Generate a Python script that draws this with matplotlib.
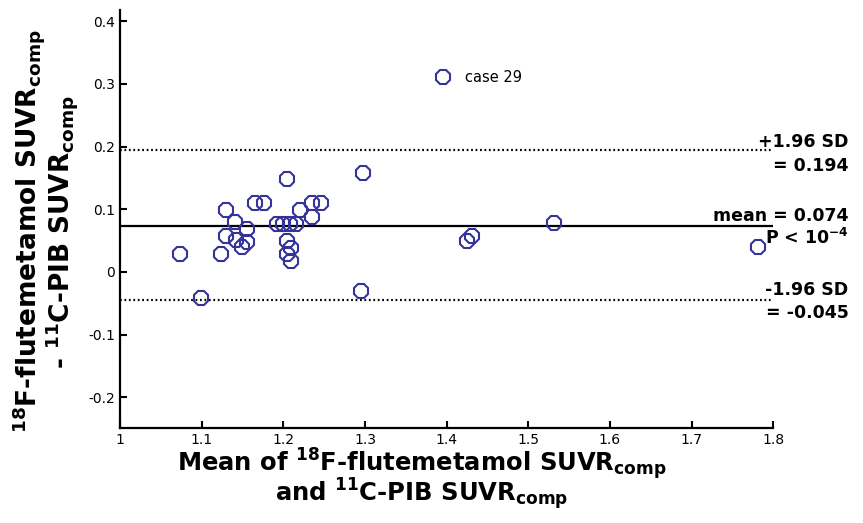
import matplotlib
matplotlib.use("Agg")
import matplotlib.pyplot as plt
import numpy as np

plt.rcParams['font.family'] = ['DejaVu Sans']
plt.rcParams['mathtext.fontset'] = 'custom'
plt.rcParams['mathtext.rm'] = 'DejaVu Sans:bold'
plt.rcParams['mathtext.bf'] = 'DejaVu Sans:bold'

# mean of the two SUVRs (x) and difference (y)
mean_suvr = [1.074, 1.099, 1.130, 1.124, 1.130, 1.141, 1.155, 1.142, 1.149, 1.155,
             1.165, 1.176, 1.204, 1.192, 1.200, 1.208, 1.216, 1.204, 1.209, 1.204,
             1.210, 1.220, 1.235, 1.235, 1.246, 1.298, 1.295, 1.396, 1.425, 1.431,
             1.532, 1.781]
diff_suvr = [0.029, -0.041, 0.099, 0.029, 0.057, 0.079, 0.069, 0.051, 0.040, 0.048,
             0.110, 0.110, 0.148, 0.077, 0.077, 0.077, 0.077, 0.050, 0.039, 0.029,
             0.018, 0.099, 0.088, 0.110, 0.110, 0.158, -0.031, 0.311, 0.049, 0.057,
             0.078, 0.040]

mean_diff = 0.074
upper_loa = 0.194
lower_loa = -0.045

x_ticks = [1, 1.1, 1.2, 1.3, 1.4, 1.5, 1.6, 1.7, 1.8]
y_ticks = [-0.2, -0.1, 0, 0.1, 0.2, 0.3, 0.4]

fig = plt.figure(figsize=(8.63, 5.23), dpi=100)
ax = fig.add_axes([0.139, 0.1816, 0.757, 0.7994])

ax.plot(mean_suvr, diff_suvr, linestyle='none', marker='8', markersize=11,
        markerfacecolor='none', markeredgecolor='#33339a', markeredgewidth=1.5,
        zorder=3)

ax.axhline(mean_diff, color='black', lw=1.6, zorder=2)
ax.axhline(upper_loa, color='black', lw=1.6, linestyle=(0, (0.8, 1.2)), zorder=2)
ax.axhline(lower_loa, color='black', lw=1.6, linestyle=(0, (0.8, 1.2)), zorder=2)

ax.set_xlim(1, 1.8)
ax.set_ylim(-0.249, 0.418)
ax.set_xticks(x_ticks)
ax.set_xticklabels(['1', '1.1', '1.2', '1.3', '1.4', '1.5', '1.6', '1.7', '1.8'])
ax.set_yticks(y_ticks)
ax.set_yticklabels(['-0.2', '-0.1', '0', '0.1', '0.2', '0.3', '0.4'])
ax.tick_params(direction='in', length=5, width=1.5, labelsize=10)

for side in ['top', 'right']:
    ax.spines[side].set_visible(False)
for side in ['left', 'bottom']:
    ax.spines[side].set_linewidth(1.6)

ax.text(1.4225, 0.311, 'case 29', fontsize=10.5, va='center', ha='left')

tx = 1.892
bold = dict(fontsize=12.5, fontweight='bold', ha='right', va='center', clip_on=False)
ax.text(tx, 0.207, '+1.96 SD', **bold)
ax.text(tx, 0.169, '= 0.194', **bold)
ax.text(tx, 0.090, 'mean = 0.074', **bold)
ax.text(tx, 0.054, r'P < 10$^{-4}$', **bold)
ax.text(tx, -0.029, '-1.96 SD', **bold)
ax.text(tx, -0.065, '= -0.045', **bold)

ax.set_xlabel('Mean of $^{18}$F-flutemetamol SUVR$_{\\mathrm{comp}}$\nand $^{11}$C-PIB SUVR$_{\\mathrm{comp}}$',
              fontsize=17.5, fontweight='bold', linespacing=0.78)
ax.xaxis.label.set_verticalalignment('top')
ax.xaxis.set_label_coords(0.4625, -0.043)

ax.set_ylabel('$^{18}$F-flutemetamol SUVR$_{\\mathrm{comp}}$\n- $^{11}$C-PIB SUVR$_{\\mathrm{comp}}$',
              fontsize=19, fontweight='bold', linespacing=0.85)
ax.yaxis.label.set_verticalalignment('center')
ax.yaxis.set_label_coords(-0.115, 0.47)

fig.savefig('out.png', dpi=100)
